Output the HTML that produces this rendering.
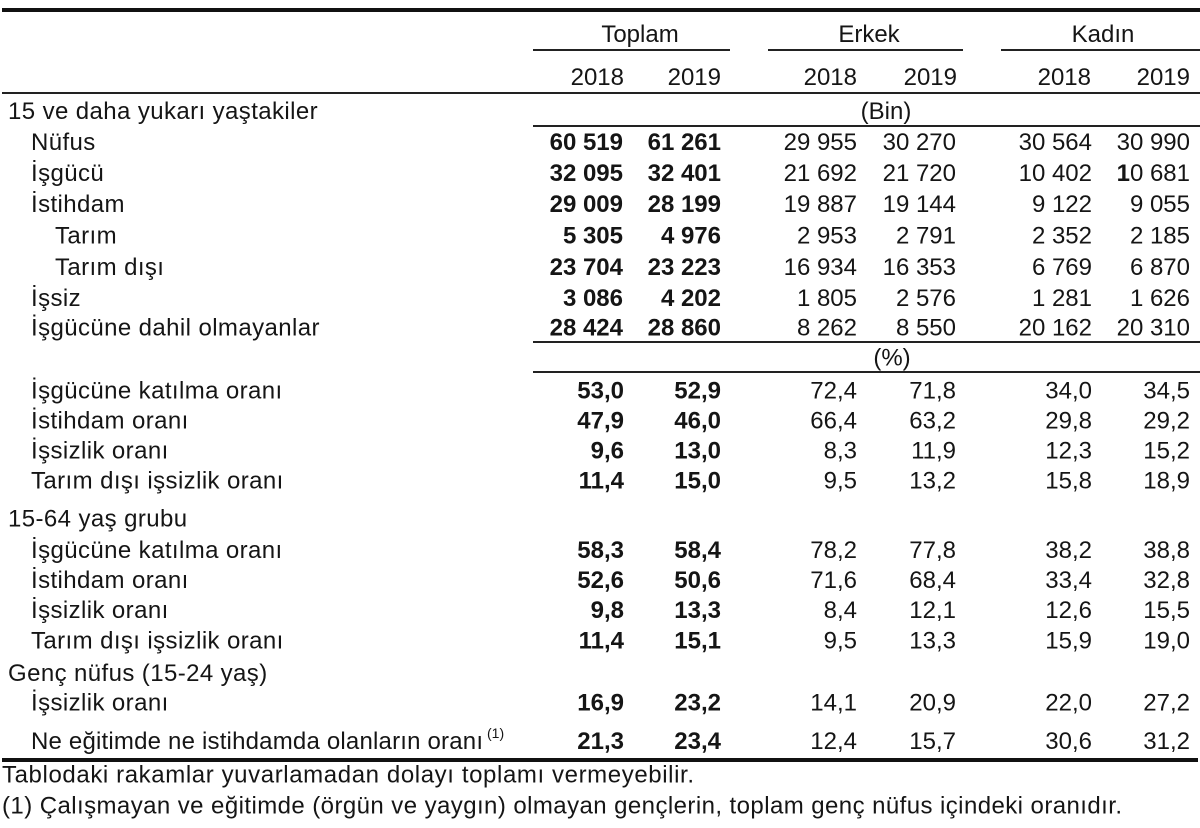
<!DOCTYPE html>
<html>
<head>
<meta charset="utf-8">
<style>
  html, body { margin:0; padding:0; background:#fff; }
  body { width:1200px; height:828px; overflow:hidden; }
  svg { display:block; }
  text { font-family: "Liberation Sans", Arial, sans-serif; font-size:24px; fill:#151515; }
  .b { font-weight:bold; }
  .r { text-anchor:end; }
  .c { text-anchor:middle; }
  .l { letter-spacing:0.4px; }
</style>
</head>
<body>
<svg width="1200" height="828" viewBox="0 0 1200 828" xmlns="http://www.w3.org/2000/svg">
  <!-- rules -->
  <rect x="2" y="8" width="1198" height="4" fill="#111"/>
  <rect x="533" y="49" width="197" height="2" fill="#222"/>
  <rect x="768" y="49" width="195" height="2" fill="#222"/>
  <rect x="1001" y="49" width="199" height="2" fill="#222"/>
  <rect x="2" y="92" width="1198" height="2" fill="#222"/>
  <rect x="533" y="125" width="667" height="2" fill="#222"/>
  <rect x="533" y="341" width="667" height="2" fill="#222"/>
  <rect x="533" y="371" width="667" height="2" fill="#222"/>
  <rect x="2" y="758" width="1196" height="4" fill="#111"/>

  <!-- group headers -->
  <text class="c" x="640" y="42">Toplam</text>
  <text class="c" x="869" y="42">Erkek</text>
  <text class="c" x="1103" y="42">Kadın</text>

  <!-- years -->
  <text class="r" x="624" y="85">2018</text>
  <text class="r" x="721" y="85">2019</text>
  <text class="r" x="857" y="85">2018</text>
  <text class="r" x="957" y="85">2019</text>
  <text class="r" x="1091" y="85">2018</text>
  <text class="r" x="1190" y="85">2019</text>

  <!-- section label + unit -->
  <text class="l" x="8" y="119">15 ve daha yukarı yaştakiler</text>
  <text class="c" x="886" y="119">(Bin)</text>

  <!-- rows (Bin) -->
  <text class="l" x="31" y="150">Nüfus</text>
  <text class="r b" x="623" y="150">60 519</text>
  <text class="r b" x="721" y="150">61 261</text>
  <text class="r" x="857" y="150">29 955</text>
  <text class="r" x="956" y="150">30 270</text>
  <text class="r" x="1092" y="150">30 564</text>
  <text class="r" x="1190" y="150">30 990</text>

  <text class="l" x="31" y="181">İşgücü</text>
  <text class="r b" x="623" y="181">32 095</text>
  <text class="r b" x="721" y="181">32 401</text>
  <text class="r" x="857" y="181">21 692</text>
  <text class="r" x="956" y="181">21 720</text>
  <text class="r" x="1092" y="181">10 402</text>
  <text class="r" x="1190" y="181"><tspan font-weight="bold">1</tspan>0 681</text>

  <text class="l" x="31" y="212">İstihdam</text>
  <text class="r b" x="623" y="212">29 009</text>
  <text class="r b" x="721" y="212">28 199</text>
  <text class="r" x="857" y="212">19 887</text>
  <text class="r" x="956" y="212">19 144</text>
  <text class="r" x="1092" y="212">9 122</text>
  <text class="r" x="1190" y="212">9 055</text>

  <text class="l" x="55" y="243.5">Tarım</text>
  <text class="r b" x="623" y="243.5">5 305</text>
  <text class="r b" x="721" y="243.5">4 976</text>
  <text class="r" x="857" y="243.5">2 953</text>
  <text class="r" x="956" y="243.5">2 791</text>
  <text class="r" x="1092" y="243.5">2 352</text>
  <text class="r" x="1190" y="243.5">2 185</text>

  <text class="l" x="55" y="275">Tarım dışı</text>
  <text class="r b" x="623" y="275">23 704</text>
  <text class="r b" x="721" y="275">23 223</text>
  <text class="r" x="857" y="275">16 934</text>
  <text class="r" x="956" y="275">16 353</text>
  <text class="r" x="1092" y="275">6 769</text>
  <text class="r" x="1190" y="275">6 870</text>

  <text class="l" x="31" y="306">İşsiz</text>
  <text class="r b" x="623" y="306">3 086</text>
  <text class="r b" x="721" y="306">4 202</text>
  <text class="r" x="857" y="306">1 805</text>
  <text class="r" x="956" y="306">2 576</text>
  <text class="r" x="1092" y="306">1 281</text>
  <text class="r" x="1190" y="306">1 626</text>

  <text class="l" x="31" y="335.5">İşgücüne dahil olmayanlar</text>
  <text class="r b" x="623" y="335.5">28 424</text>
  <text class="r b" x="721" y="335.5">28 860</text>
  <text class="r" x="857" y="335.5">8 262</text>
  <text class="r" x="956" y="335.5">8 550</text>
  <text class="r" x="1092" y="335.5">20 162</text>
  <text class="r" x="1190" y="335.5">20 310</text>

  <text class="c" x="892" y="365.5">(%)</text>

  <!-- rows (%) -->
  <text class="l" x="31" y="398.5">İşgücüne katılma oranı</text>
  <text class="r b" x="624" y="398.5">53,0</text>
  <text class="r b" x="721" y="398.5">52,9</text>
  <text class="r" x="857" y="398.5">72,4</text>
  <text class="r" x="956" y="398.5">71,8</text>
  <text class="r" x="1092" y="398.5">34,0</text>
  <text class="r" x="1190" y="398.5">34,5</text>

  <text class="l" x="31" y="428.5">İstihdam oranı</text>
  <text class="r b" x="624" y="428.5">47,9</text>
  <text class="r b" x="721" y="428.5">46,0</text>
  <text class="r" x="857" y="428.5">66,4</text>
  <text class="r" x="956" y="428.5">63,2</text>
  <text class="r" x="1092" y="428.5">29,8</text>
  <text class="r" x="1190" y="428.5">29,2</text>

  <text class="l" x="31" y="458.5">İşsizlik oranı</text>
  <text class="r b" x="624" y="458.5">9,6</text>
  <text class="r b" x="721" y="458.5">13,0</text>
  <text class="r" x="857" y="458.5">8,3</text>
  <text class="r" x="956" y="458.5">11,9</text>
  <text class="r" x="1092" y="458.5">12,3</text>
  <text class="r" x="1190" y="458.5">15,2</text>

  <text class="l" x="31" y="488.5">Tarım dışı işsizlik oranı</text>
  <text class="r b" x="624" y="488.5">11,4</text>
  <text class="r b" x="721" y="488.5">15,0</text>
  <text class="r" x="857" y="488.5">9,5</text>
  <text class="r" x="956" y="488.5">13,2</text>
  <text class="r" x="1092" y="488.5">15,8</text>
  <text class="r" x="1190" y="488.5">18,9</text>

  <!-- 15-64 -->
  <text class="l" x="8" y="526.5">15-64 yaş grubu</text>

  <text class="l" x="31" y="558">İşgücüne katılma oranı</text>
  <text class="r b" x="624" y="558">58,3</text>
  <text class="r b" x="721" y="558">58,4</text>
  <text class="r" x="857" y="558">78,2</text>
  <text class="r" x="956" y="558">77,8</text>
  <text class="r" x="1092" y="558">38,2</text>
  <text class="r" x="1190" y="558">38,8</text>

  <text class="l" x="31" y="588">İstihdam oranı</text>
  <text class="r b" x="624" y="588">52,6</text>
  <text class="r b" x="721" y="588">50,6</text>
  <text class="r" x="857" y="588">71,6</text>
  <text class="r" x="956" y="588">68,4</text>
  <text class="r" x="1092" y="588">33,4</text>
  <text class="r" x="1190" y="588">32,8</text>

  <text class="l" x="31" y="618">İşsizlik oranı</text>
  <text class="r b" x="624" y="618">9,8</text>
  <text class="r b" x="721" y="618">13,3</text>
  <text class="r" x="857" y="618">8,4</text>
  <text class="r" x="956" y="618">12,1</text>
  <text class="r" x="1092" y="618">12,6</text>
  <text class="r" x="1190" y="618">15,5</text>

  <text class="l" x="31" y="648.5">Tarım dışı işsizlik oranı</text>
  <text class="r b" x="624" y="648.5">11,4</text>
  <text class="r b" x="721" y="648.5">15,1</text>
  <text class="r" x="857" y="648.5">9,5</text>
  <text class="r" x="956" y="648.5">13,3</text>
  <text class="r" x="1092" y="648.5">15,9</text>
  <text class="r" x="1190" y="648.5">19,0</text>

  <!-- Genç -->
  <text class="l" x="8" y="681">Genç nüfus (15-24 yaş)</text>

  <text class="l" x="31" y="710.5">İşsizlik oranı</text>
  <text class="r b" x="624" y="710.5">16,9</text>
  <text class="r b" x="721" y="710.5">23,2</text>
  <text class="r" x="857" y="710.5">14,1</text>
  <text class="r" x="956" y="710.5">20,9</text>
  <text class="r" x="1092" y="710.5">22,0</text>
  <text class="r" x="1190" y="710.5">27,2</text>

  <text x="31" y="749" textLength="452" lengthAdjust="spacing">Ne eğitimde ne istihdamda olanların oranı</text>
  <text x="487" y="738" style="font-size:14px">(1)</text>
  <text class="r b" x="624" y="749">21,3</text>
  <text class="r b" x="721" y="749">23,4</text>
  <text class="r" x="857" y="749">12,4</text>
  <text class="r" x="956" y="749">15,7</text>
  <text class="r" x="1092" y="749">30,6</text>
  <text class="r" x="1190" y="749">31,2</text>

  <!-- footnotes -->
  <text x="2" y="782.5" textLength="692" lengthAdjust="spacing">Tablodaki rakamlar yuvarlamadan dolayı toplamı vermeyebilir.</text>
  <text x="2" y="813.5" textLength="1120" lengthAdjust="spacing">(1) Çalışmayan ve eğitimde (örgün ve yaygın) olmayan gençlerin, toplam genç nüfus içindeki oranıdır.</text>
</svg>
</body>
</html>
